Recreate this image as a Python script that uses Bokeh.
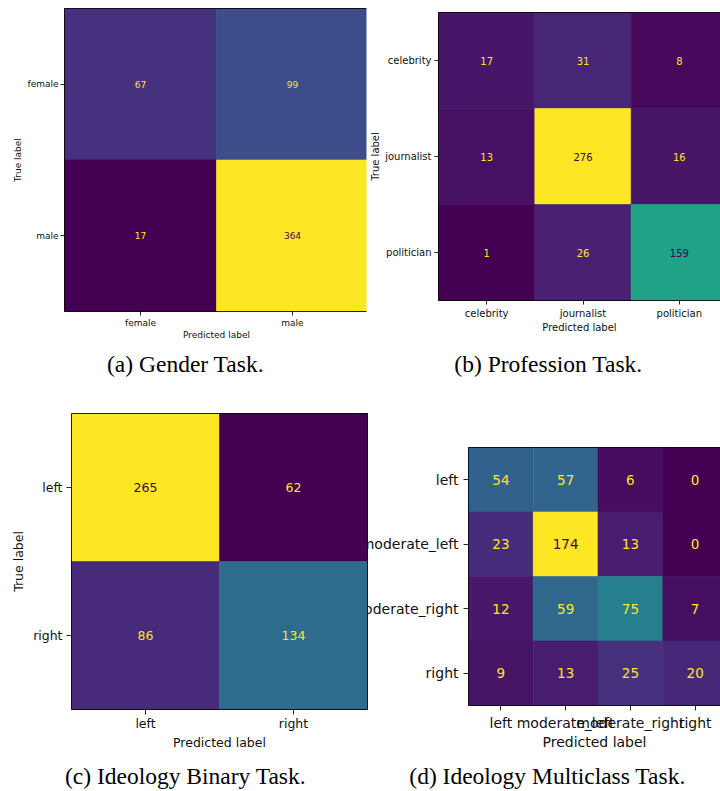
from bokeh.plotting import figure
from bokeh.models import (ColumnDataSource, LinearColorMapper, Range1d, FixedTicker,
                          LinearAxis, BoxAnnotation)
from bokeh.palettes import Viridis256
from bokeh.transform import transform
from bokeh.embed import file_html
from bokeh.resources import INLINE
from bokeh.core.properties import value

# ---------------- data ----------------
gender_labels = ["female", "male"]
gender_matrix = [[67, 99],
                 [17, 364]]

profession_labels = ["celebrity", "journalist", "politician"]
profession_matrix = [[17, 31, 8],
                     [13, 276, 16],
                     [1, 26, 159]]

binary_labels = ["left", "right"]
binary_matrix = [[265, 62],
                 [86, 134]]

multi_labels = ["left", "moderate_left", "moderate_right", "right"]
multi_matrix = [[54, 57, 6, 0],
                [23, 174, 13, 0],
                [12, 59, 75, 7],
                [9, 13, 25, 20]]

captions = ["(a) Gender Task.", "(b) Profession Task.",
            "(c) Ideology Binary Task.", "(d) Ideology Multiclass Task."]

# ---------------- layout / style (page pixels) ----------------
W, H = 720, 791
SANS = "DejaVu Sans"
SERIF = "Liberation Serif"
VIR_LO = Viridis256[0]
VIR_HI = Viridis256[-1]

panels = [
    dict(key="a", labels=gender_labels, matrix=gender_matrix, caption=captions[0],
         box=(64, 368, 8, 311), fs=9, nfs=9, tick=4, std_x=2, std_y=2,
         astd_x=-1, astd_y=1, cap=(185, 363), ylabel="True label", level="glyph"),
    dict(key="b", labels=profession_labels, matrix=profession_matrix, caption=captions[1],
         box=(438, 727, 12, 300), fs=10, nfs=10, tick=4, std_x=3, std_y=3,
         astd_x=0, astd_y=1, cap=(548, 363), ylabel="True label", level="glyph"),
    dict(key="c", labels=binary_labels, matrix=binary_matrix, caption=captions[2],
         box=(71, 367, 413, 709), fs=12.5, nfs=12.5, tick=5, std_x=1, std_y=4,
         astd_x=1, astd_y=4, cap=(185, 775), ylabel="True label", level="overlay"),
    dict(key="d", labels=multi_labels, matrix=multi_matrix, caption=captions[3],
         box=(468, 727, 447, 705), fs=14, nfs=13.5, tick=5, std_x=4, std_y=5,
         astd_x=0, astd_y=4, cap=(547, 775), ylabel=None, level="glyph"),
]

p = figure(width=W, height=H, x_range=Range1d(0, W), y_range=Range1d(H, 0),
           x_axis_type=None, y_axis_type=None, toolbar_location=None,
           output_backend="svg", min_border=0)
p.min_border_left = p.min_border_right = p.min_border_top = p.min_border_bottom = 0
p.outline_line_color = None
p.background_fill_color = "white"
p.border_fill_color = "white"

cap_x, cap_y, cap_t = [], [], []

for pn in panels:
    labels, matrix = pn["labels"], pn["matrix"]
    n = len(labels)
    L, R, T, B = pn["box"]
    sx = (R - L) / n
    sy = (B - T) / n
    xk, yk = "x" + pn["key"], "y" + pn["key"]
    p.extra_x_ranges[xk] = Range1d(start=-L / sx, end=(W - L) / sx)
    p.extra_y_ranges[yk] = Range1d(start=(H - T) / sy, end=-T / sy)

    flat = [v for r in matrix for v in r]
    lo, hi = min(flat), max(flat)
    thresh = (lo + hi) / 2.0
    mapper = LinearColorMapper(palette=Viridis256, low=lo, high=hi)

    xs, ys, vals, txt, tcol = [], [], [], [], []
    for i, r in enumerate(matrix):
        for j, v in enumerate(r):
            xs.append(j + 0.5)
            ys.append(i + 0.5)
            vals.append(v)
            txt.append(str(v))
            tcol.append(VIR_HI if v < thresh else VIR_LO)
    src = ColumnDataSource(dict(x=xs, y=ys, v=vals, t=txt, c=tcol))

    lvl = pn["level"]
    r1 = p.rect(x="x", y="y", width=1, height=1, source=src,
                fill_color=transform("v", mapper), line_color=transform("v", mapper),
                line_width=0.6, x_range_name=xk, y_range_name=yk)
    r1.level = lvl
    r2 = p.text(x="x", y="y", text="t", source=src, text_color="c",
                text_align="center", text_baseline="middle",
                text_font=value(SANS), text_font_size=f"{pn['nfs']}px",
                x_range_name=xk, y_range_name=yk)
    r2.level = lvl
    r3 = p.rect(x=[n / 2], y=[n / 2], width=n, height=n, fill_color=None,
                line_color="black", line_alpha=0.85, line_width=1,
                x_range_name=xk, y_range_name=yk)
    r3.level = lvl

    ticks = [k + 0.5 for k in range(n)]
    over = {k + 0.5: lab for k, lab in enumerate(labels)}

    def style(ax, std, astd, pn=pn):
        ax.axis_line_color = None
        ax.major_tick_line_color = "black"
        ax.major_tick_line_alpha = 0.85
        ax.major_tick_in = 0
        ax.major_tick_out = pn["tick"]
        ax.minor_tick_line_color = None
        ax.major_label_text_font = SANS
        ax.major_label_text_font_size = f"{pn['fs']}px"
        ax.major_label_text_color = "#111111"
        ax.major_label_standoff = std
        ax.axis_label_text_font = SANS
        ax.axis_label_text_font_size = f"{pn['fs']}px"
        ax.axis_label_text_font_style = "normal"
        ax.axis_label_text_color = "#111111"
        ax.axis_label_standoff = astd

    xa = LinearAxis(x_range_name=xk, y_range_name=yk, ticker=FixedTicker(ticks=ticks),
                    major_label_overrides=over, fixed_location=n, bounds=(0, n),
                    axis_label="Predicted label")
    style(xa, pn["std_x"], pn["astd_x"])
    p.add_layout(xa, "below")
    ya = LinearAxis(x_range_name=xk, y_range_name=yk, ticker=FixedTicker(ticks=ticks),
                    major_label_overrides=over, fixed_location=0, bounds=(0, n),
                    axis_label=pn["ylabel"])
    style(ya, pn["std_y"], pn["astd_y"])
    p.add_layout(ya, "left")

    cap_x.append(pn["cap"][0])
    cap_y.append(pn["cap"][1])
    cap_t.append(pn["caption"])

# white gap between the cropped panels (a) and (b)
p.add_layout(BoxAnnotation(left=366, right=370, top=0, bottom=392, fill_color="white",
                           fill_alpha=1.0, line_color=None, level="overlay"))

p.text(x=cap_x, y=cap_y, text=cap_t, text_align="center", text_baseline="alphabetic",
       text_font=value(SERIF), text_font_size="23.5px", text_color="black")

open("out.html", "w").write(file_html(p, INLINE))
